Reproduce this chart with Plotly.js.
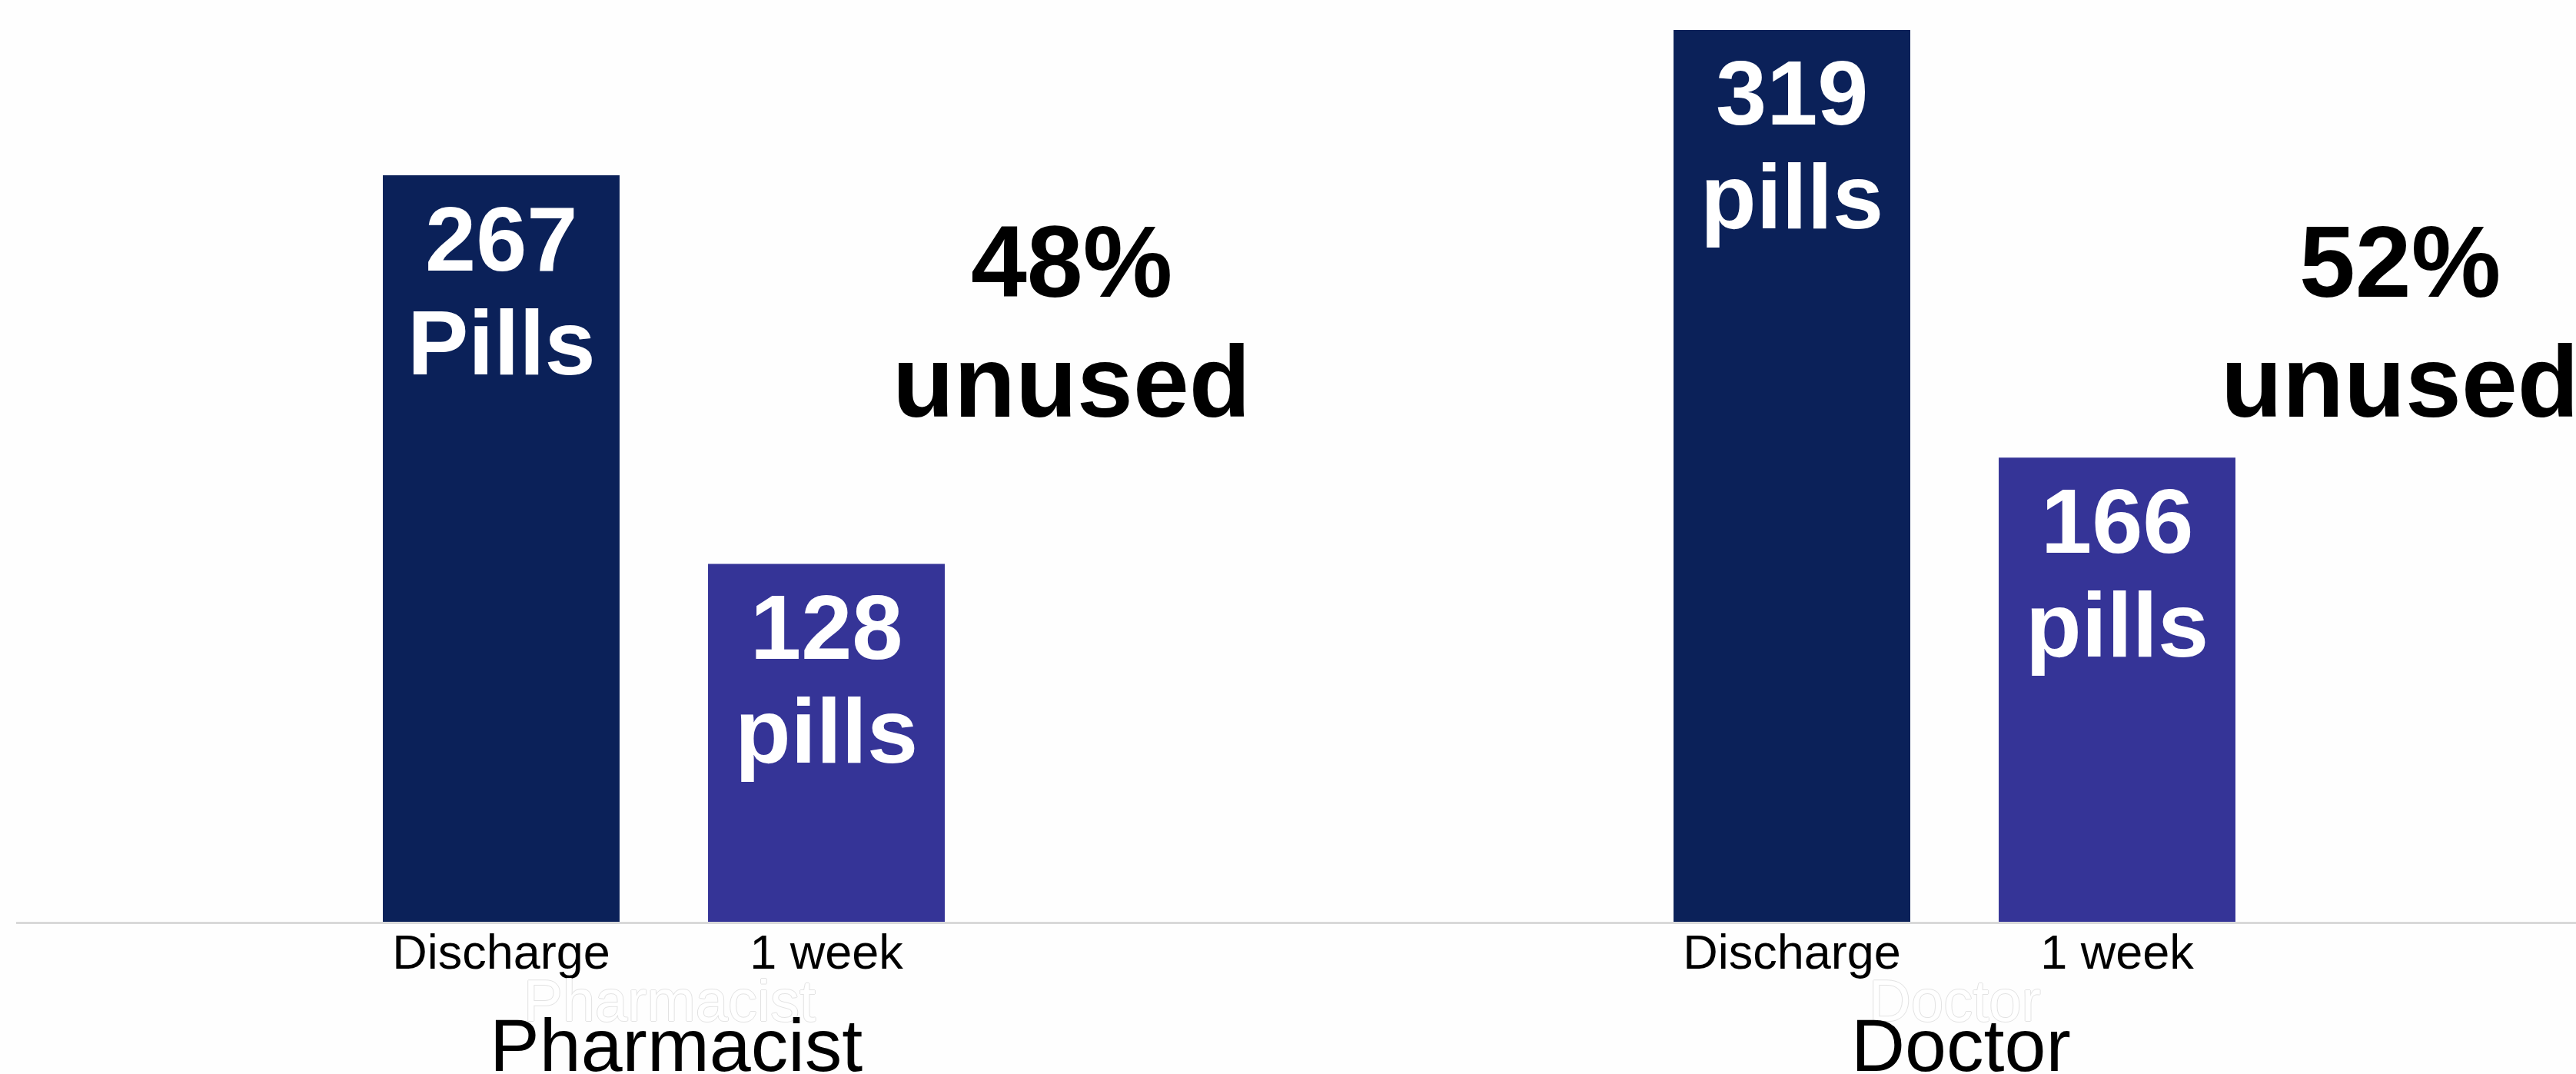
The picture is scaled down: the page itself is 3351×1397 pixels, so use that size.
<!DOCTYPE html>
<html>
<head>
<meta charset="utf-8">
<script src="https://cdn.plot.ly/plotly-3.0.1.min.js"></script>
<style>html,body{margin:0;padding:0;background:#fefefe;}#chart{width:3351px;height:1397px;}</style>
</head>
<body>
<div id="chart"></div>
<script>
// ---- data ----
const stages = ["Discharge", "1 week"];
const groups = ["Pharmacist", "Doctor"];
const pharmacistPills = [267, 128];
const doctorPills = [319, 166];
const pharmacistUnits = ["Pills", "pills"];
const doctorUnits = ["pills", "pills"];
const unusedPercent = [48, 52];
const unusedWord = "unused";

// ---- styles ----
const FONT = '"Liberation Sans", Arial, sans-serif';
const barColors = ["#0b2159", "#353497"];
const axisIds = ["x", "x2"];
const groupValues = [pharmacistPills, doctorPills];
const groupUnits = [pharmacistUnits, doctorUnits];
const pctX = [1.754, 1.87];
const groupLabelX = [0.537, 0.52];

const traces = groupValues.map((vals, g) => ({
  type: "bar",
  x: stages,
  y: vals,
  xaxis: axisIds[g],
  yaxis: "y",
  marker: { color: barColors, line: { width: 0 } },
  hoverinfo: "skip"
}));

const annotations = [];
groupValues.forEach((vals, g) => {
  vals.forEach((v, i) => {
    annotations.push({
      xref: axisIds[g], yref: "y", x: stages[i], y: v,
      text: String(v), showarrow: false, yanchor: "middle", yshift: -82,
      font: { family: FONT, size: 119, color: "#ffffff", weight: 700 }
    });
    annotations.push({
      xref: axisIds[g], yref: "y", x: stages[i], y: v,
      text: groupUnits[g][i], showarrow: false, yanchor: "middle", yshift: -217,
      font: { family: FONT, size: 119, color: "#ffffff", weight: 700 }
    });
  });
  // percent unused
  annotations.push({
    xref: axisIds[g], yref: "paper", x: pctX[g], y: 0.7164,
    text: unusedPercent[g] + "%", showarrow: false, yanchor: "middle",
    font: { family: FONT, size: 131, color: "#000000", weight: 700 }
  });
  annotations.push({
    xref: axisIds[g], yref: "paper", x: pctX[g], y: 0.5857,
    text: unusedWord, showarrow: false, yanchor: "middle",
    font: { family: FONT, size: 131, color: "#000000", weight: 700 }
  });
  // ghost group label (white outlined)
  annotations.push({
    xref: axisIds[g], yref: "paper", x: groupLabelX[g] - 0.02, y: 0,
    text: groups[g], showarrow: false, yanchor: "middle", yshift: -102,
    font: { family: FONT, size: 76, color: "#ffffff",
      shadow: "1px 0 0 #e2e2e2, -1px 0 0 #e2e2e2, 0 1px 0 #e2e2e2, 0 -1px 0 #e2e2e2" }
  });
  // group label
  annotations.push({
    xref: axisIds[g], yref: "paper", x: groupLabelX[g], y: 0,
    text: groups[g], showarrow: false, yanchor: "middle", yshift: -160,
    font: { family: FONT, size: 97, color: "#000000" }
  });
});

const xCommon = {
  type: "category",
  categoryorder: "array",
  categoryarray: stages,
  showgrid: false, zeroline: false,
  showline: true, linecolor: "#d9d9d9", linewidth: 3,
  ticks: "",
  tickfont: { family: FONT, size: 63, color: "#000000" },
  ticklabelstandoff: -18,
  fixedrange: true
};

const layout = {
  width: 3351, height: 1397,
  margin: { l: 21, r: 0, t: 0, b: 198, pad: 0 },
  paper_bgcolor: "#fefefe",
  plot_bgcolor: "rgba(0,0,0,0)",
  showlegend: false,
  bargap: 0.272,
  hovermode: false,
  xaxis: Object.assign({}, xCommon, { domain: [0, 0.50511], range: [-1.4917, 2.4846], anchor: "y" }),
  xaxis2: Object.assign({}, xCommon, { domain: [0.50511, 1], range: [-1.4846, 2.4113], anchor: "y" }),
  yaxis: { range: [0, 329.7], visible: false, showgrid: false, zeroline: false, fixedrange: true },
  annotations: annotations
};

Plotly.newPlot("chart", traces, layout, { staticPlot: true, displayModeBar: false });
</script>
</body>
</html>
